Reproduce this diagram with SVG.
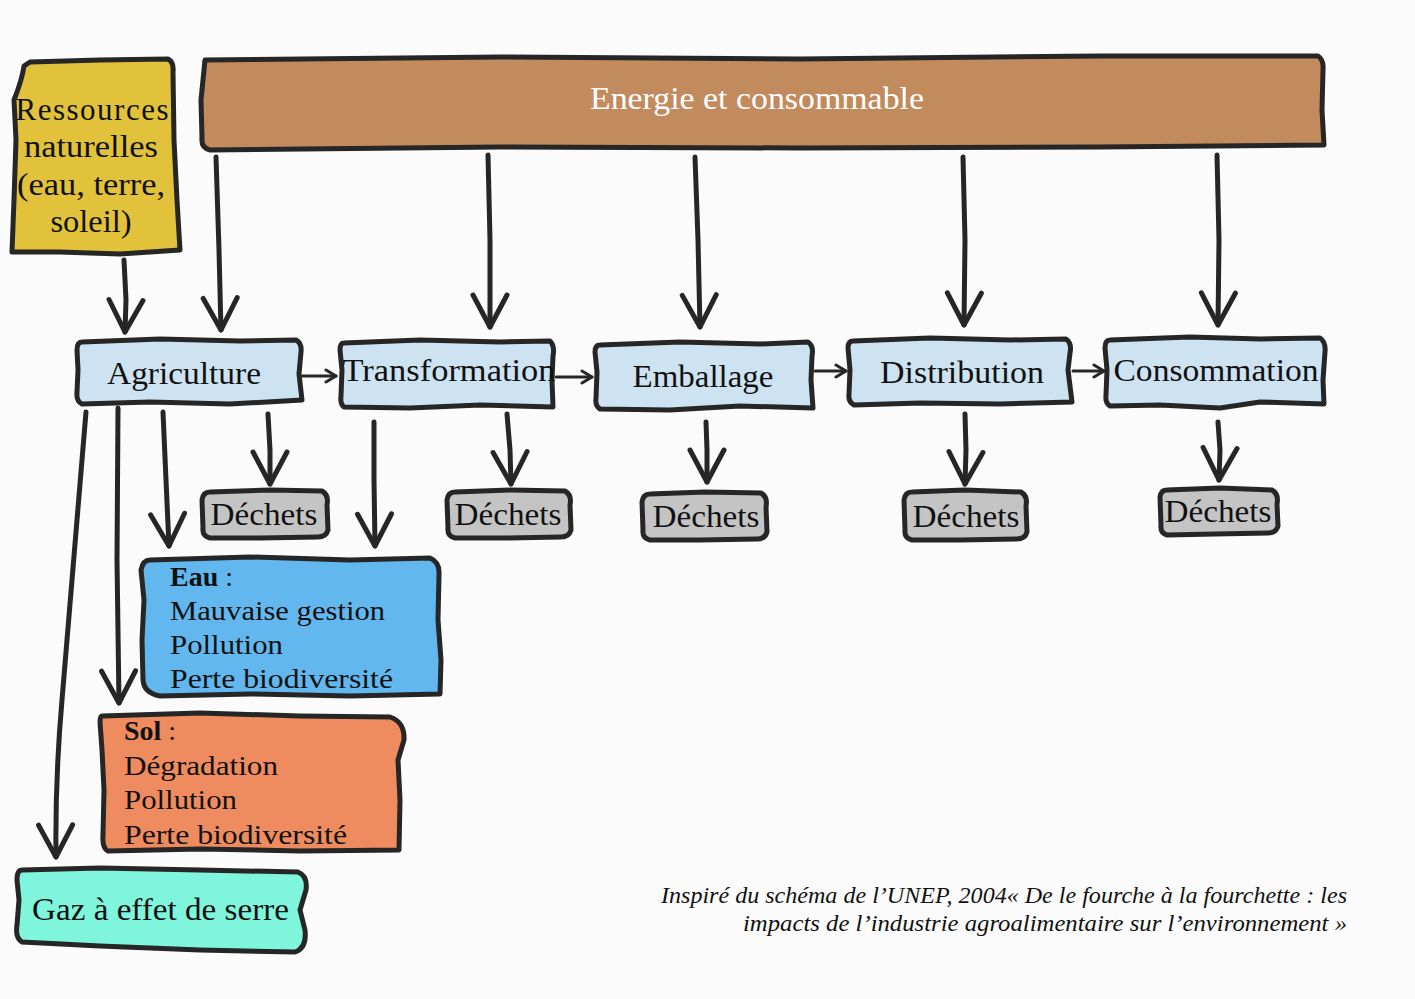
<svg xmlns="http://www.w3.org/2000/svg" width="1415" height="999" viewBox="0 0 1415 999">
<style>
.bx{stroke:#262626;stroke-width:5;stroke-linejoin:round}
.t{font-family:"Liberation Serif","DejaVu Serif",serif;fill:#111}
.ln{fill:none;stroke:#262626;stroke-width:5;stroke-linecap:round}
.sm{fill:none;stroke:#262626;stroke-width:3;stroke-linecap:round}
</style>
<defs>
<marker id="bv" viewBox="-36 -22 40 44" markerWidth="40" markerHeight="44" refX="0" refY="0" orient="auto" markerUnits="userSpaceOnUse">
<path d="M-32,-17 L0,0 L-32,17" fill="none" stroke="#262626" stroke-width="5" stroke-linecap="round" stroke-linejoin="round"/>
</marker>
<marker id="sv" viewBox="-14 -9 16 18" markerWidth="16" markerHeight="18" refX="0" refY="0" orient="auto" markerUnits="userSpaceOnUse">
<path d="M-10,-6 L0,0 L-10,6" fill="none" stroke="#262626" stroke-width="3" stroke-linecap="round" stroke-linejoin="round"/>
</marker>
</defs>
<rect width="1415" height="999" fill="#fbfbfb"/>

<g id="connectors">
<path class="ln" d="M124,260 L126,300 L125,332" marker-end="url(#bv)"/>
<path class="ln" d="M216,157 L219,250 L221,330" marker-end="url(#bv)"/>
<path class="ln" d="M488,155 L490,240 L490,327" marker-end="url(#bv)"/>
<path class="ln" d="M695,157 L698,240 L700,327" marker-end="url(#bv)"/>
<path class="ln" d="M963,157 L965,240 L964,325" marker-end="url(#bv)"/>
<path class="ln" d="M1217,155 L1219,240 L1218,325" marker-end="url(#bv)"/>
<path class="sm" d="M302,376 L336,376" marker-end="url(#sv)"/>
<path class="sm" d="M556,377 L592,377" marker-end="url(#sv)"/>
<path class="sm" d="M815,371 L846,371" marker-end="url(#sv)"/>
<path class="sm" d="M1073,371 L1104,371" marker-end="url(#sv)"/>
<path class="ln" d="M268,414 L270,450 L270,484" marker-end="url(#bv)"/>
<path class="ln" d="M507,414 L510,450 L511,484" marker-end="url(#bv)"/>
<path class="ln" d="M706,422 L707,450 L707,482" marker-end="url(#bv)"/>
<path class="ln" d="M965,414 L966,450 L965,484" marker-end="url(#bv)"/>
<path class="ln" d="M1218,422 L1220,450 L1219,480" marker-end="url(#bv)"/>
<path class="ln" d="M163,412 L166,480 L169,546" marker-end="url(#bv)"/>
<path class="ln" d="M374,422 L374,480 L375,546" marker-end="url(#bv)"/>
<path class="ln" d="M118,408 L117,560 L119,703" marker-end="url(#bv)"/>
<path class="ln" d="M86,412 Q70,600 62,700 Q55,780 56,857" marker-end="url(#bv)"/>
</g>

<g id="ressources">
<path class="bx" fill="#e2c13b" d="M30,62 L100,60 L168,59 Q174,62 173,72 L174,140 L177,200 L180,250 L120,254 L60,252 L12,252 L14,200 L16,140 L14,100 Q22,80 24,66 Z"/>
<text class="t" font-size="31" text-anchor="middle" lengthAdjust="spacingAndGlyphs"><tspan x="92" y="120" textLength="153">Ressources</tspan></text>
<text class="t" font-size="31" x="91" y="157" text-anchor="middle" textLength="134" lengthAdjust="spacingAndGlyphs">naturelles</text>
<text class="t" font-size="31" x="91" y="195" text-anchor="middle" textLength="148" lengthAdjust="spacingAndGlyphs">(eau, terre,</text>
<text class="t" font-size="31" x="91" y="232" text-anchor="middle" textLength="81" lengthAdjust="spacingAndGlyphs">soleil)</text>
</g>

<g id="energie">
<path class="bx" fill="#c28b5e" d="M205,60 L500,57 L800,59 L1100,56 L1318,56 Q1324,60 1323,70 L1322,110 L1324,145 L1100,147 L800,148 L500,147 L210,150 Q201,148 202,138 L201,100 Z"/>
<text class="t" font-size="31" style="fill:#fff" x="757" y="109" text-anchor="middle" textLength="334" lengthAdjust="spacingAndGlyphs">Energie et consommable</text>
</g>

<g id="agriculture">
<path class="bx" fill="#cde3f2" d="M82,342 L160,339 L240,341 L296,340 Q302,343 301,352 L299,374 L302,400 L230,404 L150,402 L82,404 Q76,401 77,392 L78,370 L77,350 Q77,342 82,342 Z"/>
<text class="t" font-size="31" x="184" y="384" text-anchor="middle" textLength="154" lengthAdjust="spacingAndGlyphs">Agriculture</text>
</g>

<g id="transformation">
<path class="bx" fill="#cde3f2" d="M344,343 L420,340 L500,342 L550,341 Q555,346 553,356 L552,380 L553,407 L480,405 L410,408 L344,407 Q340,404 341,396 L342,370 L340,350 Q340,343 344,343 Z"/>
<text class="t" font-size="31" x="449" y="381" text-anchor="middle" textLength="213" lengthAdjust="spacingAndGlyphs">Transformation</text>
</g>

<g id="emballage">
<path class="bx" fill="#cde3f2" d="M600,345 L680,342 L760,344 L808,342 Q814,346 812,356 L811,380 L813,408 L740,406 L670,410 L600,409 Q595,406 596,398 L597,372 L595,352 Q595,345 600,345 Z"/>
<text class="t" font-size="31" x="703" y="387" text-anchor="middle" textLength="141" lengthAdjust="spacingAndGlyphs">Emballage</text>
</g>

<g id="distribution">
<path class="bx" fill="#cde3f2" d="M853,341 L930,338 L1010,340 L1066,339 Q1072,343 1070,353 L1068,370 L1072,402 L1000,404 L920,403 L854,405 Q848,402 849,394 L850,370 L848,348 Q848,341 853,341 Z"/>
<text class="t" font-size="31" x="962" y="383" text-anchor="middle" textLength="164" lengthAdjust="spacingAndGlyphs">Distribution</text>
</g>

<g id="consommation">
<path class="bx" fill="#cde3f2" d="M1110,340 L1190,337 L1260,339 L1320,338 Q1326,342 1325,352 L1323,380 L1324,404 L1260,402 L1220,408 L1160,405 L1110,406 Q1105,403 1106,395 L1107,370 L1105,348 Q1105,340 1110,340 Z"/>
<text class="t" font-size="31" x="1216" y="381" text-anchor="middle" textLength="205" lengthAdjust="spacingAndGlyphs">Consommation</text>
</g>

<g id="dechets1">
<path class="bx" fill="#c4c4c4" d="M210,492 L270,490 L322,491 Q329,495 327,505 L328,530 Q326,537 318,537 L260,538 L210,538 Q202,536 203,528 L202,500 Q203,492 210,492 Z"/>
<text class="t" font-size="31" x="264" y="525" text-anchor="middle" textLength="107" lengthAdjust="spacingAndGlyphs">Déchets</text>
</g>
<g id="dechets2">
<path class="bx" fill="#c4c4c4" d="M455,492 L510,490 L565,491 Q572,495 570,505 L571,530 Q569,537 561,537 L505,538 L455,538 Q447,536 448,528 L447,500 Q448,492 455,492 Z"/>
<text class="t" font-size="31" x="508" y="525" text-anchor="middle" textLength="107" lengthAdjust="spacingAndGlyphs">Déchets</text>
</g>
<g id="dechets3">
<path class="bx" fill="#c4c4c4" d="M650,494 L705,492 L761,493 Q768,497 766,507 L767,532 Q765,539 757,539 L700,540 L650,540 Q642,538 643,530 L642,502 Q643,494 650,494 Z"/>
<text class="t" font-size="31" x="706" y="527" text-anchor="middle" textLength="107" lengthAdjust="spacingAndGlyphs">Déchets</text>
</g>
<g id="dechets4">
<path class="bx" fill="#c4c4c4" d="M912,492 L965,490 L1021,492 Q1028,496 1026,506 L1027,532 Q1025,539 1017,539 L960,540 L912,540 Q904,538 905,530 L904,500 Q905,492 912,492 Z"/>
<text class="t" font-size="31" x="966" y="527" text-anchor="middle" textLength="107" lengthAdjust="spacingAndGlyphs">Déchets</text>
</g>
<g id="dechets5">
<path class="bx" fill="#c4c4c4" d="M1167,490 L1220,488 L1272,490 Q1279,494 1277,504 L1278,526 Q1276,533 1268,533 L1215,534 L1167,535 Q1160,533 1161,525 L1160,497 Q1161,490 1167,490 Z"/>
<text class="t" font-size="31" x="1218" y="522" text-anchor="middle" textLength="107" lengthAdjust="spacingAndGlyphs">Déchets</text>
</g>

<g id="eau">
<path class="bx" fill="#62b8ee" d="M150,560 L250,557 L350,560 L430,558 Q440,562 439,575 L438,620 L441,660 L440,694 L350,696 L250,694 L160,696 Q144,693 143,680 L142,640 L144,600 L141,570 Q143,560 150,560 Z"/>
<text class="t" font-size="28"><tspan x="170" y="586" font-weight="bold">Eau</tspan><tspan> :</tspan></text>
<text class="t" font-size="28" x="170" y="620" textLength="215" lengthAdjust="spacingAndGlyphs">Mauvaise gestion</text>
<text class="t" font-size="28" x="170" y="654" textLength="113" lengthAdjust="spacingAndGlyphs">Pollution</text>
<text class="t" font-size="28" x="170" y="688" textLength="223" lengthAdjust="spacingAndGlyphs">Perte biodiversité</text>
</g>

<g id="sol">
<path class="bx" fill="#ef8c5f" d="M102,716 L200,713 L300,716 L390,717 Q405,722 404,740 L398,760 L400,800 L399,850 L300,851 L200,849 L108,851 Q102,848 103,835 L104,790 L102,750 L100,722 Q100,716 102,716 Z"/>
<text class="t" font-size="28"><tspan x="124" y="740" font-weight="bold">Sol</tspan><tspan> :</tspan></text>
<text class="t" font-size="28" x="124" y="775" textLength="154" lengthAdjust="spacingAndGlyphs">Dégradation</text>
<text class="t" font-size="28" x="124" y="809" textLength="113" lengthAdjust="spacingAndGlyphs">Pollution</text>
<text class="t" font-size="28" x="124" y="844" textLength="223" lengthAdjust="spacingAndGlyphs">Perte biodiversité</text>
</g>

<g id="gaz">
<path class="bx" fill="#7ff5dc" d="M22,870 L100,868 L200,870 L298,872 Q308,876 306,890 L300,910 L305,930 Q307,948 295,952 L200,950 L100,946 L22,942 Q15,938 17,925 L19,900 L17,880 Q17,870 22,870 Z"/>
<text class="t" font-size="31" x="32" y="920" textLength="257" lengthAdjust="spacingAndGlyphs">Gaz à effet de serre</text>
</g>

<g id="caption">
<text class="t" font-size="23" font-style="italic" x="661" y="903" textLength="686" lengthAdjust="spacingAndGlyphs">Inspiré du schéma de l’UNEP, 2004« De le fourche à la fourchette : les</text>
<text class="t" font-size="23" font-style="italic" x="743" y="931" textLength="604" lengthAdjust="spacingAndGlyphs">impacts de l’industrie agroalimentaire sur l’environnement »</text>
</g>
</svg>
